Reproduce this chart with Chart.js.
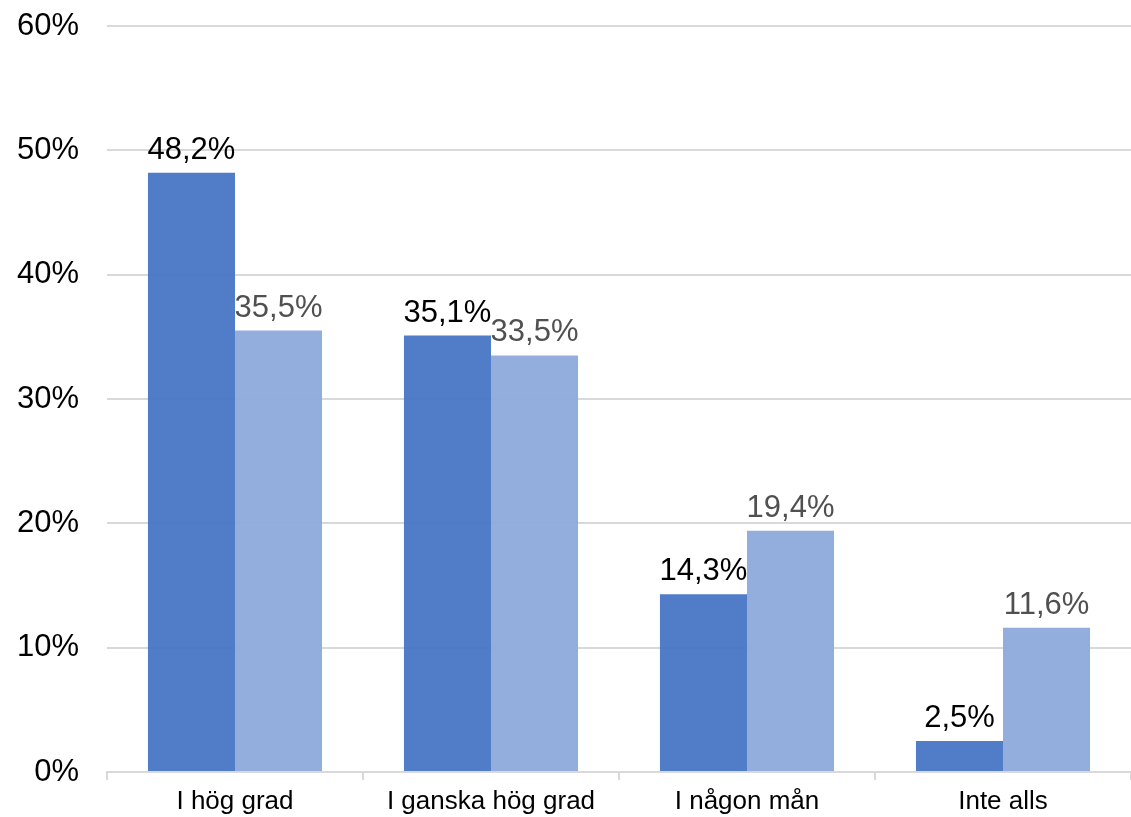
<!DOCTYPE html>
<html>
<head>
<meta charset="utf-8">
<script src="https://cdn.jsdelivr.net/npm/chart.js@4"></script>
<style>
  html, body { margin: 0; padding: 0; background: #fff; overflow: hidden; }
  #wrap { position: relative; width: 1131px; height: 817px; }
</style>
</head>
<body>
<div id="wrap"><canvas id="c"></canvas></div>
<script>
const categories = ["I hög grad", "I ganska hög grad", "I någon mån", "Inte alls"];
const seriesA = [48.2, 35.1, 14.3, 2.5];
const seriesB = [35.5, 33.5, 19.4, 11.6];
const yTicks = [0, 10, 20, 30, 40, 50, 60];

const FONT = "'Liberation Sans', Arial, sans-serif";
const fmtPct = (v) => v.toFixed(1).replace(".", ",") + "%";

// values printed above each bar
const barLabels = {
  id: "barLabels",
  afterDatasetsDraw(chart) {
    const ctx = chart.ctx;
    ctx.save();
    ctx.font = "31px " + FONT;
    ctx.textAlign = "center";
    ctx.textBaseline = "alphabetic";
    chart.data.datasets.forEach((ds, i) => {
      ctx.fillStyle = ds.labelColor;
      chart.getDatasetMeta(i).data.forEach((bar, j) => {
        ctx.fillText(fmtPct(ds.data[j]), bar.x, bar.y - 14);
      });
    });
    ctx.restore();
  }
};

new Chart(document.getElementById("c"), {
  type: "bar",
  data: {
    labels: categories,
    datasets: [
      { label: "A", data: seriesA, backgroundColor: "rgba(68,114,196,0.93)", labelColor: "#000000" },
      { label: "B", data: seriesB, backgroundColor: "rgba(143,170,220,0.96)", labelColor: "#505050" },
    ],
  },
  options: {
    responsive: true, maintainAspectRatio: false, animation: false,
    layout: { padding: { top: 26, right: 0, left: 0, bottom: 0 } },
    datasets: { bar: { categoryPercentage: 0.68, barPercentage: 1.0 } },
    plugins: { legend: { display: false }, tooltip: { enabled: false } },
    scales: {
      y: {
        min: 0, max: 60,
        afterBuildTicks: (s) => { s.ticks = yTicks.map((v) => ({ value: v })); },
        afterFit: (s) => { s.width = 107; s.paddingTop = 0; s.paddingBottom = 0; },
        ticks: { callback: (v) => v + "%", color: "#000", padding: 28, font: { family: FONT, size: 31 } },
        grid: { color: "#d9d9d9", lineWidth: 2, drawTicks: false },
        border: { display: false },
      },
      x: {
        afterFit: (s) => { s.height = 45; s.paddingLeft = 0; s.paddingRight = 0; },
        ticks: { color: "#000", padding: 6, font: { family: FONT, size: 26 } },
        grid: { color: "#d9d9d9", lineWidth: 2, drawOnChartArea: false, tickLength: 8, offset: true },
        border: { color: "#d9d9d9", width: 2 },
      },
    },
  },
  plugins: [barLabels],
});
</script>
</body>
</html>
